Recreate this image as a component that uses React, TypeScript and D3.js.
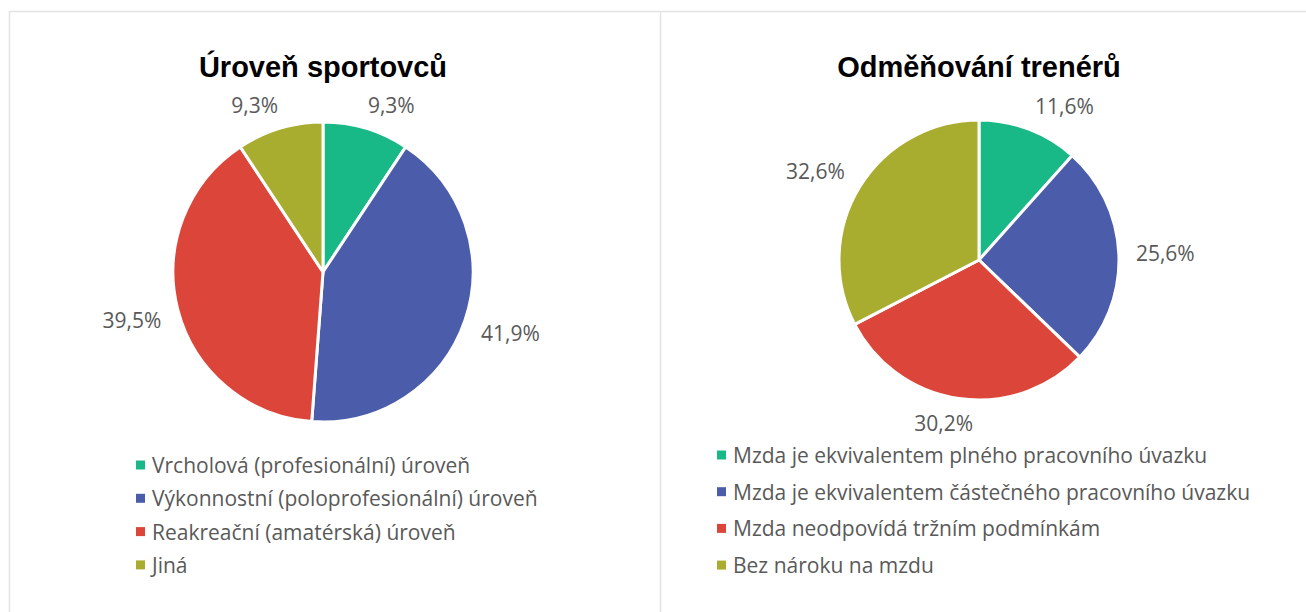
import React, { useEffect, useRef } from "react";
import * as d3 from "d3";

const leftTitle = "Úroveň sportovců";
const leftCategories = [
  "Vrcholová (profesionální) úroveň",
  "Výkonnostní (poloprofesionální) úroveň",
  "Reakreační (amatérská) úroveň",
  "Jiná",
];
const leftValues = [9.3, 41.9, 39.5, 9.3];

const rightTitle = "Odměňování trenérů";
const rightCategories = [
  "Mzda je ekvivalentem plného pracovního úvazku",
  "Mzda je ekvivalentem částečného pracovního úvazku",
  "Mzda neodpovídá tržním podmínkám",
  "Bez nároku na mzdu",
];
const rightValues = [11.6, 25.6, 30.2, 32.6];

const colors = ["#19b987", "#4a5caa", "#dc463a", "#a9ad2f"];

const fmt = (v: number) => v.toFixed(1).replace(".", ",") + "%";

type PieProps = {
  title: string;
  categories: string[];
  values: number[];
  cx: number;
  cy: number;
  r: number;
  titleY: number;
  legendX: number;
  legendY: number;
  legendStep: number;
};

const clamp = (v: number) => Math.max(-1, Math.min(1, v));

function drawPie(g: d3.Selection<SVGGElement, unknown, null, undefined>, p: PieProps) {
  g.append("text")
    .attr("x", p.cx)
    .attr("y", p.titleY)
    .attr("text-anchor", "middle")
    .attr("font-family", "Liberation Sans, Arial, sans-serif")
    .attr("font-weight", "bold")
    .attr("font-size", 29)
    .attr("fill", "#000")
    .text(p.title);

  const pie = d3.pie<number>().sort(null).value((d) => d);
  const arcs = pie(p.values);
  const arc = d3.arc<d3.PieArcDatum<number>>().innerRadius(0).outerRadius(p.r);
  const labelArc = d3.arc<d3.PieArcDatum<number>>().innerRadius(p.r + 17).outerRadius(p.r + 17);

  const pg = g.append("g").attr("transform", `translate(${p.cx},${p.cy})`);
  pg.selectAll("path")
    .data(arcs)
    .enter()
    .append("path")
    .attr("d", arc)
    .attr("fill", (_, i) => colors[i])
    .attr("stroke", "#fff")
    .attr("stroke-width", 3)
    .attr("stroke-linejoin", "round");

  // outside labels: the box corner facing the pie sits on the slice's mid ray
  pg.selectAll("text.lbl")
    .data(arcs)
    .enter()
    .append("text")
    .attr("class", "lbl")
    .attr("text-anchor", "middle")
    .attr("dominant-baseline", "central")
    .attr("font-family", "Open Sans, sans-serif")
    .attr("font-size", 21)
    .attr("fill", "#595959")
    .text((d) => fmt(d.data))
    .each(function (d) {
      const w = (this as SVGTextElement).getComputedTextLength();
      const h = 15;
      const a = (d.startAngle + d.endAngle) / 2;
      const [px, py] = labelArc.centroid(d);
      d3.select(this)
        .attr("x", px + (w / 2) * clamp(Math.sin(a) * 3))
        .attr("y", py + (h / 2) * clamp(-Math.cos(a) * 3));
    });

  const lg = g.append("g");
  const rows = lg
    .selectAll("g")
    .data(p.categories)
    .enter()
    .append("g")
    .attr("transform", (_, i) => `translate(${p.legendX},${p.legendY + i * p.legendStep})`);
  rows
    .append("rect")
    .attr("x", 0)
    .attr("y", -4.5)
    .attr("width", 9)
    .attr("height", 9)
    .attr("fill", (_, i) => colors[i]);
  rows
    .append("text")
    .attr("x", 16)
    .attr("y", 0)
    .attr("dominant-baseline", "central")
    .attr("font-family", "Open Sans, sans-serif")
    .attr("font-size", 21)
    .attr("fill", "#595959")
    .text((d) => d);
}

const App = () => {
  const ref = useRef<SVGSVGElement>(null);

  useEffect(() => {
    const svg = d3.select(ref.current);
    svg.selectAll("*").remove();

    svg.append("rect").attr("width", 1306).attr("height", 612).attr("fill", "#fff");

    // panel borders
    const border = "#e3e3e3";
    svg.append("line").attr("x1", 9).attr("x2", 1306).attr("y1", 11.5).attr("y2", 11.5)
      .attr("stroke", border).attr("stroke-width", 1.5);
    svg.append("line").attr("x1", 9.5).attr("x2", 9.5).attr("y1", 11).attr("y2", 612)
      .attr("stroke", border).attr("stroke-width", 1.5);
    svg.append("line").attr("x1", 660.5).attr("x2", 660.5).attr("y1", 11).attr("y2", 612)
      .attr("stroke", border).attr("stroke-width", 1.5);

    drawPie(svg.append("g"), {
      title: leftTitle,
      categories: leftCategories,
      values: leftValues,
      cx: 323,
      cy: 272,
      r: 150,
      titleY: 77,
      legendX: 136,
      legendY: 465,
      legendStep: 33.3,
    });

    drawPie(svg.append("g"), {
      title: rightTitle,
      categories: rightCategories,
      values: rightValues,
      cx: 979,
      cy: 260,
      r: 140,
      titleY: 77,
      legendX: 717,
      legendY: 455,
      legendStep: 36.7,
    });
  }, []);

  return (
    <svg
      ref={ref}
      width={1306}
      height={612}
      style={{ position: "absolute", left: 0, top: 0 }}
    />
  );
};

export default App;
